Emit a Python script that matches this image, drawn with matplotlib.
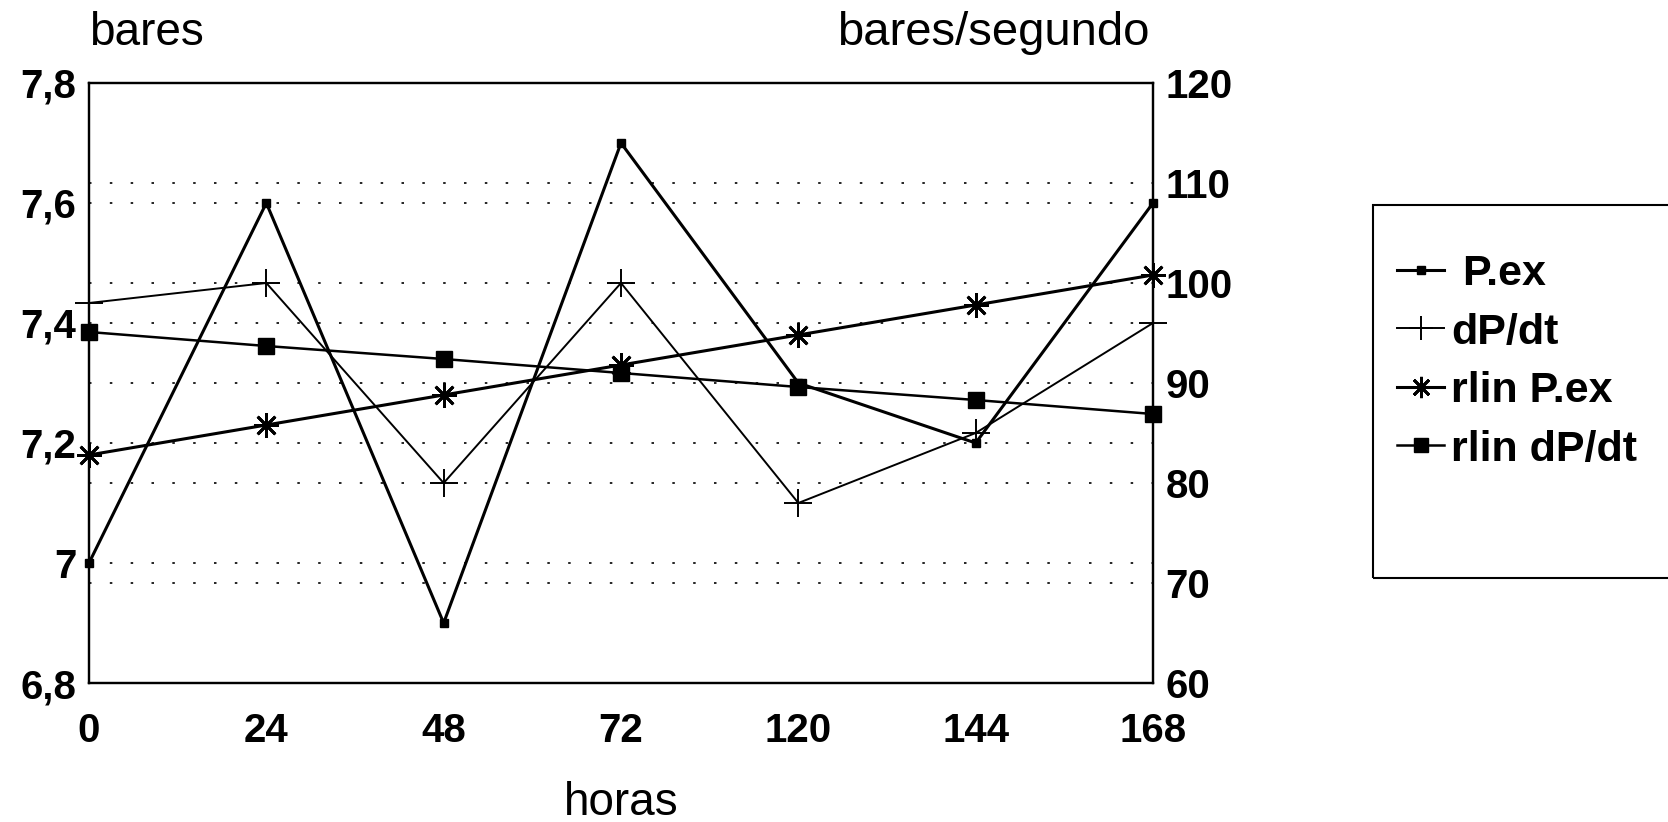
import matplotlib
matplotlib.use("Agg")
import matplotlib.pyplot as plt
from matplotlib.patches import Rectangle

# ---- data ----
horas = ["0", "24", "48", "72", "120", "144", "168"]
p_ex = [7.0, 7.6, 6.9, 7.7, 7.3, 7.2, 7.6]                  # bares
dp_dt = [98, 100, 80, 100, 78, 85, 96]                      # bares/segundo
rlin_p_ex = [7.18, 7.23, 7.28, 7.33, 7.38, 7.43, 7.48]      # recta de regresion P.ex
rlin_dp_dt = [95.1, 93.7, 92.4, 91.0, 89.6, 88.3, 86.9]     # recta de regresion dP/dt

left_ticks = [6.8, 7.0, 7.2, 7.4, 7.6, 7.8]
left_labels = ["6,8", "7", "7,2", "7,4", "7,6", "7,8"]
right_ticks = [60, 70, 80, 90, 100, 110, 120]

plt.rcParams["font.family"] = ["Liberation Sans", "DejaVu Sans"]

W, H = 1668, 822
fig = plt.figure(figsize=(W / 100, H / 100), dpi=100)
ax = fig.add_axes([89 / W, 1 - 683 / H, 1064 / W, 600 / H])
ax2 = ax.twinx()

x = list(range(len(horas)))

grid_style = dict(color="black", linewidth=1.2, linestyle=(0, (1.5, 11)))
ax.yaxis.grid(True, **grid_style)
ax2.yaxis.grid(True, **grid_style)
ax.set_axisbelow(True)

l1, = ax.plot(x, p_ex, color="black", lw=2.2, marker="s", ms=6,
              clip_on=False, zorder=3)
l2, = ax2.plot(x, dp_dt, color="black", lw=1.4, marker="+", ms=20, mew=1.4,
               clip_on=False, zorder=3)
l3, = ax.plot(x, rlin_p_ex, color="black", lw=2.2, marker=(8, 2, 0), ms=18,
              mew=2.0, clip_on=False, zorder=3)
l4, = ax2.plot(x, rlin_dp_dt, color="black", lw=1.8, marker="s", ms=11.5,
               clip_on=False, zorder=3)

ax.set_xlim(0, len(horas) - 1)
ax.set_ylim(6.8, 7.8)
ax2.set_ylim(60, 120)

ax.set_xticks(x)
ax.set_xticklabels(horas)
ax.set_yticks(left_ticks)
ax.set_yticklabels(left_labels)
ax2.set_yticks(right_ticks)

for lab in ax.get_xticklabels() + ax.get_yticklabels() + ax2.get_yticklabels():
    lab.set_fontsize(29)
    lab.set_fontweight("bold")
ax.tick_params(axis="y", length=0, pad=9)
ax.tick_params(axis="x", length=0, pad=21)
ax2.tick_params(axis="y", length=0, pad=9)

for a in (ax, ax2):
    for sp in a.spines.values():
        sp.set_linewidth(1.6)
        sp.set_color("black")

# axis titles
fig.text(89 / W, 1 - 33 / H, "bares", fontsize=33, ha="left", va="center")
fig.text(1150 / W, 1 - 33 / H, "bares/segundo", fontsize=34, ha="right", va="center")
fig.text(621 / W, 1 - 803 / H, "horas", fontsize=33, ha="center", va="center")

# legend box running off the right edge
fig.patches.append(Rectangle((1373 / W, 1 - 578 / H), 400 / W, 373 / H,
                             transform=fig.transFigure, fill=False,
                             edgecolor="black", linewidth=1.5))
fig.legend([l1, l2, l3, l4], [" P.ex", "dP/dt", "rlin P.ex", "rlin dP/dt"],
           loc="upper left", bbox_to_anchor=(1397 / W, 1 - 254 / H),
           frameon=False, borderpad=0, borderaxespad=0, handlelength=1.1,
           handletextpad=0.15, labelspacing=0.43, markerscale=0.85,
           prop=dict(family=["Liberation Sans", "DejaVu Sans"], size=31, weight="bold"))

fig.savefig("out.png", dpi=100)
